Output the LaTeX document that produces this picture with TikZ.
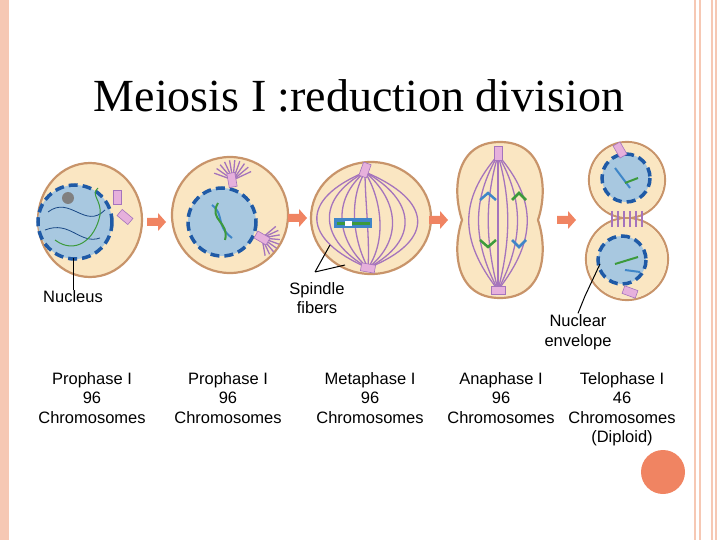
\documentclass[tikz,border=0pt]{standalone}
\usepackage{fontspec}
\setmainfont{Liberation Sans}
\newfontfamily\titlefont{Liberation Serif}
\usepackage{tikz}
\definecolor{Cyto}{HTML}{FAE6C2}
\definecolor{Wall}{HTML}{C8946A}
\definecolor{Nuc}{HTML}{A8C8E0}
\definecolor{Env}{HTML}{1F5AA6}
\definecolor{Fiber}{HTML}{A574BC}
\definecolor{Cent}{HTML}{E6B0DC}
\definecolor{Arr}{HTML}{F08462}
\definecolor{Rim}{HTML}{F6C8B4}
\definecolor{ChG}{HTML}{3C9A3C}
\definecolor{ChB}{HTML}{3F86C8}
\tikzset{
    cell/.style={fill=Cyto, draw=Wall, line width=2.2pt},
    nucleus/.style={fill=Nuc, draw=Env, line width=3.5pt, dash pattern=on 9pt off 5pt},
    fiber/.style={draw=Fiber, line width=1.3pt},
    centriole/.style={fill=Cent, draw=Fiber, line width=.6pt},
    stage/.style={align=center, inner sep=1pt, font=\fontsize{16.5}{19.5}\selectfont},
    pointer/.style={draw=black, line width=1pt},
    step arrow/.style={fill=Arr, draw=none}
}
\newcommand{\arrowat}[2]{\fill[step arrow] (#1-9,#2-4) -- (#1+2,#2-4) -- (#1+2,#2-9) -- (#1+10,#2) -- (#1+2,#2+9) -- (#1+2,#2+4) -- (#1-9,#2+4) -- cycle;}
\newcommand{\centat}[3]{\draw[centriole, rotate around={#3:(#1,#2)}] (#1-4,#2-7) rectangle (#1+4,#2+7);}
\begin{document}
\begin{tikzpicture}[x=1pt, y=-1pt]
    \useasboundingbox (0,0) rectangle (720,540);
    % Rahmen.
    \fill[Rim] (0,0) rectangle (9,540);
    \foreach \x in {695,700,712,716}
    {
        \draw[Rim, line width=1.2pt] (\x,0) -- (\x,540);
    }
    \fill[Arr] (663,472) circle (22);

    % Titel.
    \node[font=\titlefont\fontsize{46}{50}\selectfont] (title) at (359,96) {Meiosis I :reduction division};

    % Zelle 1: Prophase.
    \draw[cell] (90,220) ellipse (52 and 57);
    \draw[nucleus] (75,222) circle (37);
    \draw[Env!80!black, line width=.8pt] (48,212) .. controls (70,195) and (85,230) .. (105,210) (45,230) .. controls (70,220) and (80,245) .. (100,238);
    \draw[ChG, line width=1pt] (55,240) .. controls (75,255) and (95,240) .. (100,215) .. controls (102,200) and (90,195) .. (98,188);
    \fill[gray] (68,198) circle (6);
    \centat{117}{197}{0}
    \centat{125}{217}{50}
    \coordinate (nucPt) at (73,258);

    % Zelle 2: spaete Prophase.
    \draw[cell] (230,215) circle (58);
    \foreach \a in {200,215,...,340}
    {
        \draw[fiber] (233,180) -- ++(\a:20);
    }
    \foreach \a in {-40,-25,...,80}
    {
        \draw[fiber] (262,238) -- ++(\a:18);
    }
    \draw[nucleus] (222,222) circle (34);
    \draw[ChB, line width=2pt] (212,205) .. controls (225,215) and (215,225) .. (232,238);
    \draw[ChG, line width=2pt] (218,203) .. controls (208,220) and (230,222) .. (225,240);
    \centat{232}{180}{10}
    \centat{262}{238}{60}

    % Zelle 3: Metaphase.
    \draw[cell] (371,218) ellipse (60 and 56);
    \foreach \d in {-48,-36,...,48}
    {
        \draw[fiber] (365,172) .. controls (365+1.4*\d,200) and (370+1.4*\d,240) .. (368,268);
    }
    \fill[ChB] (334,218) rectangle (372,228);
    \fill[ChG] (337,222) rectangle (370,225);
    \fill[white] (345,221) rectangle (352,226);
    \centat{365}{170}{-20}
    \centat{368}{268}{80}
    \coordinate (spA) at (330,245);
    \coordinate (spB) at (345,265);
    \coordinate (spJ) at (315,272);

    % Zelle 4: Anaphase.
    \draw[cell] (500,142) .. controls (545,142) and (548,190) .. (538,220) .. controls (548,250) and (545,298) .. (500,298) .. controls (455,298) and (452,250) .. (462,220) .. controls (452,190) and (455,142) .. cycle;
    \foreach \d in {-30,-20,...,30}
    {
        \draw[fiber] (498,155) .. controls (498+1.3*\d,200) and (498+1.3*\d,240) .. (498,290);
    }
    \draw[ChB, line width=2.5pt] (480,200) -- (488,193) -- (496,200);
    \draw[ChG, line width=2.5pt] (512,200) -- (519,193) -- (526,200);
    \draw[ChG, line width=2.5pt] (480,240) -- (488,247) -- (496,240);
    \draw[ChB, line width=2.5pt] (512,240) -- (519,247) -- (526,240);
    \centat{498}{153}{0}
    \centat{498}{290}{90}

    % Zelle 5: Telophase.
    \draw[Wall, line width=2.2pt] (627,180) circle (38) (627,259) circle (41);
    \fill[Cyto] (627,180) circle (36.9) (627,259) circle (39.9);
    \foreach \x in {612,618,...,642}
    {
        \draw[fiber] (\x,211) -- (\x,227);
    }
    \draw[nucleus] (626,178) circle (24);
    \draw[nucleus] (622,260) circle (24);
    \draw[ChB, line width=2pt] (615,168) -- (630,188);
    \draw[ChG, line width=2pt] (625,183) -- (638,178);
    \draw[ChG, line width=2pt] (615,264) -- (638,257);
    \draw[ChB, line width=2pt] (625,270) -- (640,272);
    \centat{620}{150}{30}
    \centat{630}{292}{70}
    \coordinate (envPt) at (600,264);
    \coordinate (envJ) at (585,296);

    % Pfeile.
    \arrowat{156}{222}
    \arrowat{297}{218}
    \arrowat{438}{220}
    \arrowat{566}{220}

    % Beschriftungen.
    \node[stage] (nucLbl) at (73,297) {Nucleus};
    \node[stage] (spLbl) at (317,298) {Spindle\\fibers};
    \node[stage] (envLbl) at (578,332) {Nuclear\\envelope};
    \draw[pointer] (nucLbl.north) -- (nucPt);
    \draw[pointer] (spJ) -- (spA) (spJ) -- (spB);
    \draw[pointer] (envLbl.north) -- (envJ) -- (envPt);

    \node[stage, anchor=north] (pro1) at (92,371) {Prophase I\\96\\Chromosomes};
    \node[stage, anchor=north] (pro2) at (228,371) {Prophase I\\96\\Chromosomes};
    \node[stage, anchor=north] (meta) at (370,371) {Metaphase I\\96\\Chromosomes};
    \node[stage, anchor=north] (ana) at (501,371) {Anaphase I\\96\\Chromosomes};
    \node[stage, anchor=north] (telo) at (622,371) {Telophase I\\46\\Chromosomes\\(Diploid)};
\end{tikzpicture}
\end{document}
